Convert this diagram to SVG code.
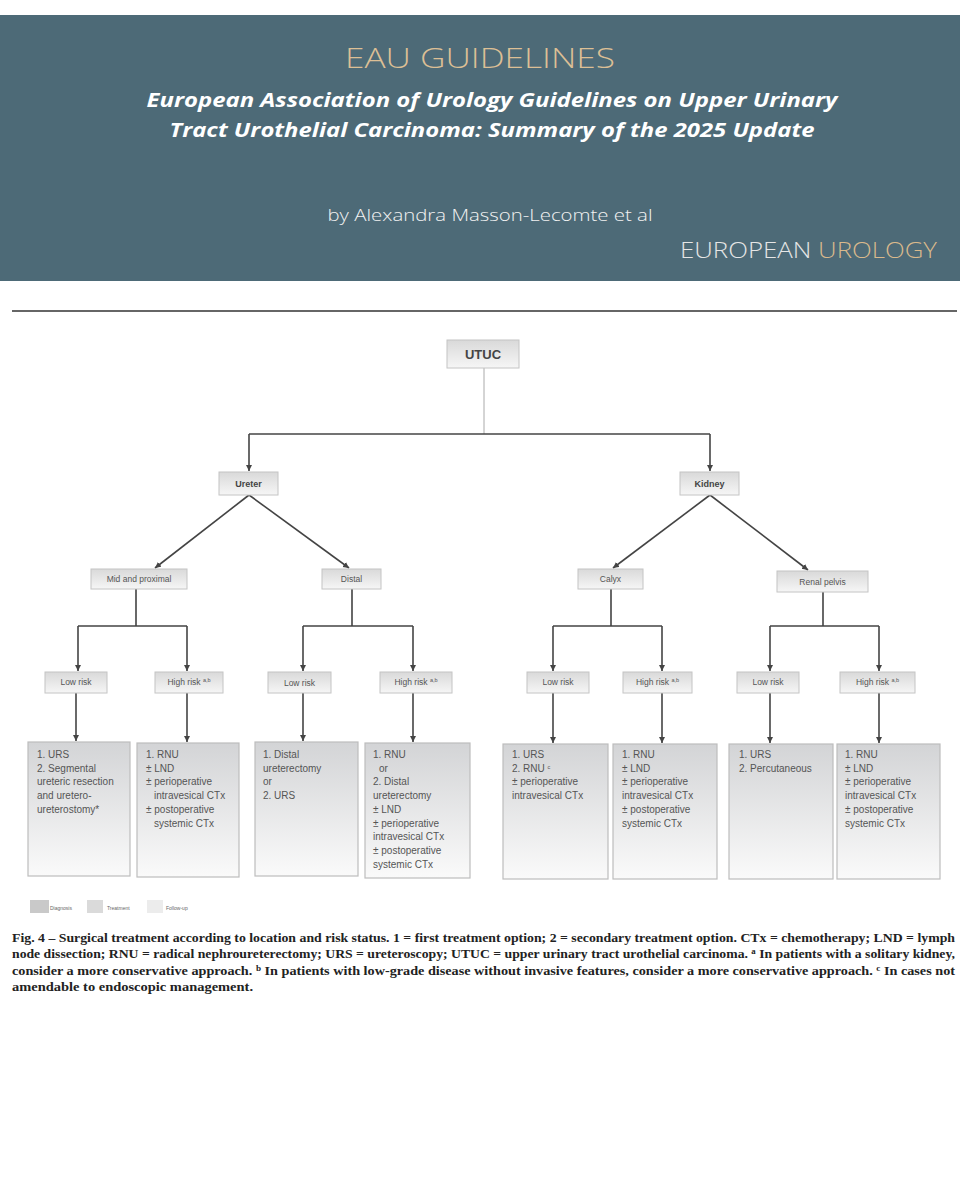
<svg xmlns="http://www.w3.org/2000/svg" width="960" height="1200" viewBox="0 0 960 1200">
<defs>
<linearGradient id="gBox" x1="0" y1="0" x2="0" y2="1">
<stop offset="0" stop-color="#d3d4d6"/>
<stop offset="1" stop-color="#fafafa"/>
</linearGradient>
<linearGradient id="gLbl" x1="0" y1="0" x2="0" y2="1">
<stop offset="0" stop-color="#d9d9d9"/>
<stop offset="1" stop-color="#f6f6f6"/>
</linearGradient>
<marker id="arr" markerWidth="8" markerHeight="8" refX="6" refY="3" orient="auto" markerUnits="userSpaceOnUse">
<path d="M0,0 L6,3 L0,6 Z" fill="#444"/>
</marker>
<style>
.lbl{fill:url(#gLbl);stroke:#c4c4c4;stroke-width:1}
.box{fill:url(#gBox);stroke:#bdbdbd;stroke-width:1.2}
.lt{font-family:"Liberation Sans",Arial,sans-serif;font-size:8.5px;fill:#555;text-anchor:middle}
.bt{font-family:"Liberation Sans",Arial,sans-serif;font-size:9px;font-weight:bold;fill:#444;text-anchor:middle}
.big{font-size:13px}
.tx{font-family:"Liberation Sans",Arial,sans-serif;font-size:10px;fill:#555}
.ss{font-size:5.5px}
.con{fill:none;stroke:#444;stroke-width:1.6}
.conA{fill:none;stroke:#444;stroke-width:1.6;marker-end:url(#arr)}
.cap{font-family:"Liberation Serif","Times New Roman",serif;font-size:12.5px;font-weight:bold;fill:#222}
.sup{font-size:8px}
.leg{font-family:"Liberation Sans",Arial,sans-serif;font-size:5px;fill:#666}
</style>
</defs>
<rect x="0" y="0" width="960" height="1200" fill="#ffffff"/>
<g id="header">
<rect x="0" y="15" width="960" height="266" fill="#4d6a77"/>
<text x="480" y="68" text-anchor="middle" font-family="'Open Sans',sans-serif" font-weight="300" font-size="28" fill="#dcbf95" textLength="270" lengthAdjust="spacingAndGlyphs">EAU GUIDELINES</text>
<text x="492" y="107" text-anchor="middle" font-family="'Open Sans',sans-serif" font-weight="bold" font-style="italic" font-size="19" fill="#ffffff" textLength="691" lengthAdjust="spacingAndGlyphs">European Association of Urology Guidelines on Upper Urinary</text>
<text x="492" y="137" text-anchor="middle" font-family="'Open Sans',sans-serif" font-weight="bold" font-style="italic" font-size="19" fill="#ffffff" textLength="645" lengthAdjust="spacingAndGlyphs">Tract Urothelial Carcinoma: Summary of the 2025 Update</text>
<text x="490" y="221" text-anchor="middle" font-family="'Open Sans',sans-serif" font-weight="300" font-size="17" fill="#f2f2f2" textLength="325" lengthAdjust="spacingAndGlyphs">by Alexandra Masson-Lecomte et al</text>
<text x="937" y="258" text-anchor="end" font-family="'Open Sans',sans-serif" font-weight="300" font-size="22" fill="#e6e6e6" textLength="257" lengthAdjust="spacingAndGlyphs">EUROPEAN <tspan fill="#d9b98c">UROLOGY</tspan></text>
</g>
<line x1="12" y1="311" x2="957" y2="311" stroke="#333" stroke-width="1.5"/>
<g id="connectors">
<line x1="484" y1="368" x2="484" y2="434" stroke="#aaa" stroke-width="1"/>
<path class="con" d="M249,434 H710"/>
<path class="conA" d="M249,434 V471"/>
<path class="conA" d="M710,434 V471"/>
<path class="conA" d="M249,495 L155,568"/>
<path class="conA" d="M249,495 L349,568"/>
<path class="conA" d="M710,495 L613,568"/>
<path class="conA" d="M710,495 L808,570"/>
<path class="con" d="M136,589 V626 M78,626 H187"/>
<path class="conA" d="M78,626 V671"/>
<path class="conA" d="M187,626 V671"/>
<path class="con" d="M352,589 V626 M303,626 H413"/>
<path class="conA" d="M303,626 V671"/>
<path class="conA" d="M413,626 V671"/>
<path class="con" d="M611,589 V626 M553,626 H662"/>
<path class="conA" d="M553,626 V671"/>
<path class="conA" d="M662,626 V671"/>
<path class="con" d="M823,592 V626 M770,626 H879"/>
<path class="conA" d="M770,626 V671"/>
<path class="conA" d="M879,626 V671"/>
<path class="conA" d="M76,693 V741"/>
<path class="conA" d="M187,693 V742"/>
<path class="conA" d="M303,693 V741"/>
<path class="conA" d="M413,693 V742"/>
<path class="conA" d="M553,693 V743"/>
<path class="conA" d="M662,693 V743"/>
<path class="conA" d="M770,693 V743"/>
<path class="conA" d="M879,693 V743"/>
</g>
<g id="n-utuc"><rect class="lbl" x="447" y="340" width="72" height="28"/><text class="bt big" x="483" y="359">UTUC</text></g>
<g id="n-ureter"><rect class="lbl" x="219" y="472" width="59" height="23"/><text class="bt" x="248.5" y="487">Ureter</text></g>
<g id="n-kidney"><rect class="lbl" x="680" y="472" width="59" height="23"/><text class="bt" x="709.5" y="487">Kidney</text></g>
<g id="n-midprox"><rect class="lbl" x="91" y="569" width="96" height="20"/><text class="lt" x="139" y="582">Mid and proximal</text></g>
<g id="n-distal"><rect class="lbl" x="322" y="569" width="59" height="20"/><text class="lt" x="351.5" y="582">Distal</text></g>
<g id="n-calyx"><rect class="lbl" x="578" y="569" width="65" height="20"/><text class="lt" x="610.5" y="582">Calyx</text></g>
<g id="n-pelvis"><rect class="lbl" x="777" y="571" width="91" height="21"/><text class="lt" x="822.5" y="585">Renal pelvis</text></g>
<g id="n-low1"><rect class="lbl" x="45" y="672" width="62" height="21"/><text class="lt" x="76" y="685">Low risk</text></g>
<g id="n-high1"><rect class="lbl" x="155" y="672" width="68" height="21"/><text class="lt" x="189" y="685">High risk <tspan class="ss" dy="-3">a,b</tspan></text></g>
<g id="n-low2"><rect class="lbl" x="268" y="672" width="63" height="21"/><text class="lt" x="299.5" y="686">Low risk</text></g>
<g id="n-high2"><rect class="lbl" x="380" y="672" width="72" height="21"/><text class="lt" x="416" y="685">High risk <tspan class="ss" dy="-3">a,b</tspan></text></g>
<g id="n-low3"><rect class="lbl" x="527" y="672" width="62" height="21"/><text class="lt" x="558" y="685">Low risk</text></g>
<g id="n-high3"><rect class="lbl" x="623" y="672" width="69" height="21"/><text class="lt" x="657.5" y="685">High risk <tspan class="ss" dy="-3">a,b</tspan></text></g>
<g id="n-low4"><rect class="lbl" x="737" y="672" width="62" height="21"/><text class="lt" x="768" y="685">Low risk</text></g>
<g id="n-high4"><rect class="lbl" x="840" y="672" width="75" height="21"/><text class="lt" x="877.5" y="685">High risk <tspan class="ss" dy="-3">a,b</tspan></text></g>
<g id="n-t1"><rect class="box" x="28" y="742" width="102" height="134"/>
<text class="tx"><tspan x="37" y="758">1. URS</tspan><tspan x="37" y="771.7">2. Segmental</tspan><tspan x="37" y="785.4">ureteric resection</tspan><tspan x="37" y="799.1">and uretero-</tspan><tspan x="37" y="812.8">ureterostomy*</tspan></text></g>
<g id="n-t2"><rect class="box" x="137" y="743" width="102" height="134"/>
<text class="tx"><tspan x="146" y="758">1. RNU</tspan><tspan x="146" y="771.7">± LND</tspan><tspan x="146" y="785.4">± perioperative</tspan><tspan x="154" y="799.1">intravesical  CTx</tspan><tspan x="146" y="812.8">± postoperative</tspan><tspan x="154" y="826.5">systemic CTx</tspan></text></g>
<g id="n-t3"><rect class="box" x="255" y="742" width="103" height="134"/>
<text class="tx"><tspan x="263" y="758">1. Distal</tspan><tspan x="263" y="771.7">ureterectomy</tspan><tspan x="263" y="785.4">or</tspan><tspan x="263" y="799.1">2. URS</tspan></text></g>
<g id="n-t4"><rect class="box" x="365" y="743" width="105" height="135"/>
<text class="tx"><tspan x="373" y="758">1. RNU</tspan><tspan x="379" y="771.7">or</tspan><tspan x="373" y="785.4">2. Distal</tspan><tspan x="373" y="799.1">ureterectomy</tspan><tspan x="373" y="812.8">± LND</tspan><tspan x="373" y="826.5">± perioperative</tspan><tspan x="373" y="840.2">intravesical CTx</tspan><tspan x="373" y="853.9">± postoperative</tspan><tspan x="373" y="867.6">systemic CTx</tspan></text></g>
<g id="n-t5"><rect class="box" x="503" y="744" width="105" height="135"/>
<text class="tx"><tspan x="512" y="758">1. URS</tspan><tspan x="512" y="771.7">2. RNU <tspan class="ss" dy="-3">c</tspan></tspan><tspan x="512" y="785.4">± perioperative</tspan><tspan x="512" y="799.1">intravesical  CTx</tspan></text></g>
<g id="n-t6"><rect class="box" x="613" y="744" width="104" height="135"/>
<text class="tx"><tspan x="622" y="758">1. RNU</tspan><tspan x="622" y="771.7">± LND</tspan><tspan x="622" y="785.4">± perioperative</tspan><tspan x="622" y="799.1">intravesical CTx</tspan><tspan x="622" y="812.8">± postoperative</tspan><tspan x="622" y="826.5">systemic CTx</tspan></text></g>
<g id="n-t7"><rect class="box" x="729" y="744" width="104" height="135"/>
<text class="tx"><tspan x="739" y="758">1. URS</tspan><tspan x="739" y="771.7">2. Percutaneous</tspan></text></g>
<g id="n-t8"><rect class="box" x="837" y="744" width="103" height="135"/>
<text class="tx"><tspan x="845" y="758">1. RNU</tspan><tspan x="845" y="771.7">± LND</tspan><tspan x="845" y="785.4">± perioperative</tspan><tspan x="845" y="799.1">intravesical CTx</tspan><tspan x="845" y="812.8">± postoperative</tspan><tspan x="845" y="826.5">systemic CTx</tspan></text></g>
<g id="legend">
<rect x="30" y="900" width="19" height="13" fill="#c9c9c9"/>
<text class="leg" x="50" y="910">Diagnosis</text>
<rect x="87" y="900" width="16" height="13" fill="#dadada"/>
<text class="leg" x="107" y="910">Treatment</text>
<rect x="147" y="900" width="16" height="13" fill="#ececec"/>
<text class="leg" x="166" y="910">Follow-up</text>
</g>
<g id="caption">
<text class="cap" x="12" y="942" textLength="943" lengthAdjust="spacingAndGlyphs">Fig. 4 – Surgical treatment according to location and risk status. 1 = first treatment option; 2 = secondary treatment option. CTx = chemotherapy; LND = lymph</text>
<text class="cap" x="12" y="958" textLength="943" lengthAdjust="spacingAndGlyphs">node dissection; RNU = radical nephroureterectomy; URS = ureteroscopy; UTUC = upper urinary tract urothelial carcinoma. <tspan class="sup" dy="-4">a</tspan><tspan dy="4"> In patients with a solitary kidney,</tspan></text>
<text class="cap" x="12" y="975" textLength="943" lengthAdjust="spacingAndGlyphs">consider a more conservative approach. <tspan class="sup" dy="-4">b</tspan><tspan dy="4"> In patients with low-grade disease without invasive features, consider a more conservative approach. </tspan><tspan class="sup" dy="-4">c</tspan><tspan dy="4"> In cases not</tspan></text>
<text class="cap" x="12" y="991" textLength="241" lengthAdjust="spacingAndGlyphs">amendable to endoscopic management.</text>
</g>
</svg>
